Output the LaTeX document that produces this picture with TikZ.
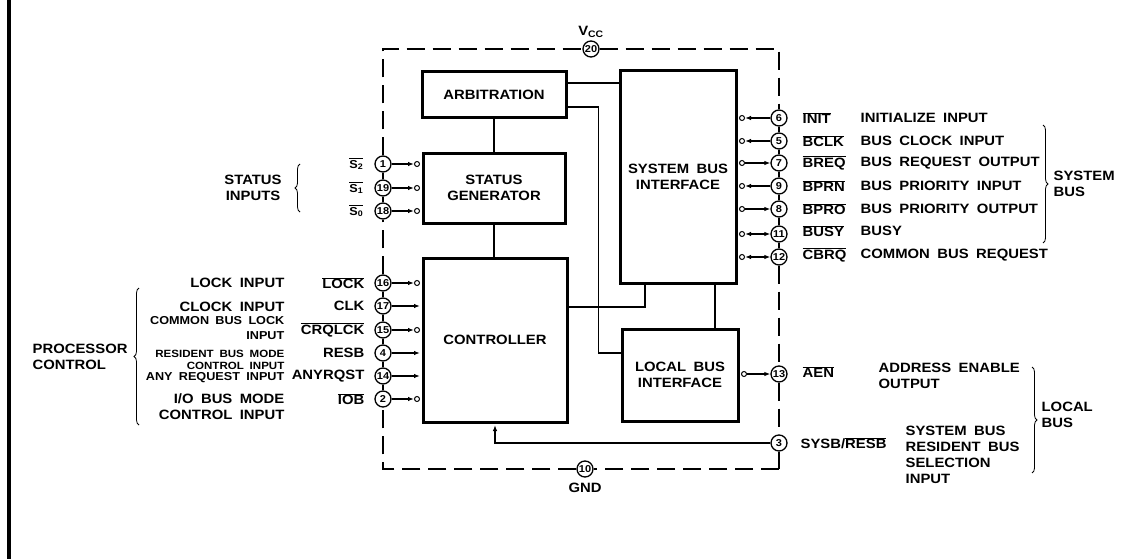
\documentclass[tikz,border=0pt]{standalone}
\usepackage{fontspec}
\setmainfont{Liberation Sans}[FakeStretch=1.1,WordSpace=1.8]
\usetikzlibrary{arrows.meta,decorations.pathreplacing}
\newcommand{\ovl}[1]{$\overline{\mbox{#1}}$}
\newcommand{\boxfont}{\bfseries\fontsize{13.5}{16}\selectfont}
\newcommand{\labfont}{\bfseries\fontsize{13.5}{16}\selectfont}
\newcommand{\leftfont}{\bfseries\fontsize{13.5}{16}\selectfont}
\newcommand{\smallfont}{\bfseries\fontsize{11.5}{13}\selectfont}
\newcommand{\tinyfont}{\bfseries\fontsize{10.5}{12}\selectfont}
\newcommand{\pinfont}{\bfseries\fontsize{10}{10}\selectfont}
\begin{document}
\begin{tikzpicture}[x=1pt,y=-1pt,line width=1.3pt,
  >={Latex[length=6pt,width=4.5pt]},
  box/.style={draw,line width=3pt,align=center,font=\boxfont,inner sep=0pt},
  pinc/.style={circle,draw,fill=white,line width=1.3pt,minimum size=16pt,inner sep=0pt,font=\pinfont},
  bub/.style={circle,draw,fill=white,line width=1pt,minimum size=5pt,inner sep=0pt},
  lab/.style={font=\labfont,inner sep=0pt},
  llab/.style={font=\leftfont,inner sep=0pt,anchor=east},
  slab/.style={font=\smallfont,inner sep=0pt,anchor=east},
  tlab/.style={font=\tinyfont,inner sep=0pt,anchor=east},
  dsh/.style={dash pattern=on 18pt off 8pt},
  brc/.style={line width=0.8pt,decorate,decoration={brace,amplitude=5pt}}]
\useasboundingbox (0,0) rectangle (1132,559);
\draw[line width=3.5pt] (9,0) -- (9,559);

% blocks
\node[box,minimum width=144pt,minimum height=46pt] (arb) at (494,95) {ARBITRATION};
\node[box,minimum width=142pt,minimum height=70pt] (sg) at (494,188) {STATUS\\GENERATOR};
\node[box,minimum width=144pt,minimum height=164pt] (ctrl) at (495,340) {CONTROLLER};
\node[box,minimum width=116pt,minimum height=212pt] (sbi) at (678,177) {SYSTEM BUS\\INTERFACE};
\node[box,minimum width=116pt,minimum height=92pt] (lbi) at (680,375) {LOCAL BUS\\INTERFACE};

% pins
\foreach \n/\y in {1/164,19/188,18/211,16/283,17/306,15/330,4/353,14/376,2/399}
  \node[pinc] (p\n) at (383,\y) {\n};
\foreach \n/\y in {6/118,5/141,7/163,9/186,8/209,11/234,12/257,13/374,3/443}
  \node[pinc] (p\n) at (779,\y) {\n};
\node[pinc] (p20) at (591,49) {20};
\node[pinc] (p10) at (585,469) {10};

% package outline
\coordinate (tl) at (383,49);
\coordinate (tr) at (779,49);
\coordinate (br) at (779,469);
\coordinate (bl) at (383,469);
\draw[dsh] (p1) -- (tl) -- (p20);
\draw[dsh] (p20) -- (tr) -- (p6);
\draw (p6) -- (p5) -- (p7) -- (p9) -- (p8) -- (p11) -- (p12);
\draw[dsh] (p12) -- (p13) -- (p3);
\draw (p3) -- (br);
\draw[dsh] (br) -- (p10) -- (bl) -- (p2);
\draw (p2) -- (p14) -- (p4) -- (p15) -- (p17) -- (p16);
\draw[dsh] (p16) -- (p18);
\draw (p18) -- (p19) -- (p1);

% left inputs
\foreach \n in {1,19,18}{
  \node[bub,anchor=east,xshift=-1.5pt] (b\n) at (p\n -| sg.west) {};
  \draw[->] (p\n) -- (b\n);}
\foreach \n in {16,15,2}{
  \node[bub,anchor=east,xshift=-1.5pt] (b\n) at (p\n -| ctrl.west) {};
  \draw[->] (p\n) -- (b\n);}
\foreach \n in {17,4,14}
  \draw[->,shorten >=1.5pt] (p\n) -- (p\n -| ctrl.west);

% right side
\foreach \n in {6,5,7,9,8,11,12}
  \node[bub,anchor=west,xshift=1.5pt] (b\n) at (p\n -| sbi.east) {};
\foreach \n in {6,5,9} \draw[->] (p\n) -- (b\n);
\foreach \n in {7,8} \draw[->] (b\n) -- (p\n);
\foreach \n in {11,12} \draw[<->] (b\n) -- (p\n);
\node[bub,anchor=west,xshift=1.5pt] (b13) at (p13 -| lbi.east) {};
\draw[->] (b13) -- (p13);
\draw[->,shorten >=1.5pt] (p3) -| (ctrl.south);

% internal connections
\draw (sg.north) -- (sg.north |- arb.south);
\draw (sg.south) -- (sg.south |- ctrl.north);
\coordinate (a1) at ([yshift=12pt]arb.east);
\draw (a1) -- (a1 -| sbi.west);
\coordinate (a2) at ([yshift=-12pt]arb.east);
\coordinate (l1) at ([yshift=22pt]lbi.west);
\draw (a2) -- ++(31,0) |- (l1);
\coordinate (c1) at ([yshift=33pt]ctrl.east);
\draw (c1) -| ([xshift=-33pt]sbi.south);
\coordinate (s2) at ([xshift=37pt]sbi.south);
\draw (s2) -- (s2 |- lbi.north);

% supply labels
\node[lab,anchor=south] (vcc) at (591,38) {V\textsubscript{CC}};
\node[lab,anchor=north] (gnd) at (585,482) {GND};

% status inputs
\node[slab] (s2l) at (364,164) {\ovl{S\textsubscript{2}}};
\node[slab] (s1l) at (364,188) {\ovl{S\textsubscript{1}}};
\node[slab] (s0l) at (364,211) {\ovl{S\textsubscript{0}}};
\draw[brc] (300,212) -- (300,164);
\node[lab,align=center] (stin) at (253,188) {STATUS\\INPUTS};

% processor control
\draw[brc] (139,425) -- (139,288);
\node[lab,anchor=west,align=left] (pc) at (32,357) {PROCESSOR\\CONTROL};
\node[llab] at (285,283) {LOCK INPUT};
\node[llab] at (285,307) {CLOCK INPUT};
\node[slab] at (285,321) {COMMON BUS LOCK};
\node[slab] at (285,336) {INPUT};
\node[tlab] at (285,354) {RESIDENT BUS MODE};
\node[tlab] at (285,365.5) {CONTROL INPUT};
\node[slab] at (285,378) {ANY REQUEST INPUT};
\node[llab] at (285,399) {I/O BUS MODE};
\node[llab] at (285,415) {CONTROL INPUT};
\node[llab] at (365,283) {\ovl{LOCK}};
\node[llab] at (365,306) {CLK};
\node[llab] at (365,330) {\ovl{CRQLCK}};
\node[llab] at (365,353) {RESB};
\node[llab] at (365,376) {ANYRQST};
\node[llab] at (365,399) {\ovl{IOB}};

% system bus side
\foreach \nm/\ds/\y in {INIT/INITIALIZE INPUT/118, BCLK/BUS CLOCK INPUT/141,
    BREQ/BUS REQUEST OUTPUT/163, BPRN/BUS PRIORITY INPUT/186,
    BPRO/BUS PRIORITY OUTPUT/209, BUSY/BUSY/231, CBRQ/COMMON BUS REQUEST/255}{
  \node[lab,anchor=west] at (802,\y) {\ovl{\nm}};
  \node[lab,anchor=west] at (860,\y) {\ds};}
\draw[brc] (1043,125) -- (1043,243);
\node[lab,anchor=west,align=left] (sysb) at (1053,184) {SYSTEM\\BUS};

% local bus side
\node[lab,anchor=west] (aen) at (802,372) {\ovl{AEN}};
\node[lab,anchor=north west,align=left] (aend) at (878,362) {ADDRESS ENABLE\\OUTPUT};
\node[lab,anchor=west] (sysbl) at (800,443) {SYSB/\ovl{RESB}};
\node[lab,anchor=north west,align=left] (sysbd) at (905,425) {SYSTEM BUS\\RESIDENT BUS\\SELECTION\\INPUT};
\draw[brc] (1032,367) -- (1032,473);
\node[lab,anchor=west,align=left] (locb) at (1041,415) {LOCAL\\BUS};
\end{tikzpicture}
\end{document}
